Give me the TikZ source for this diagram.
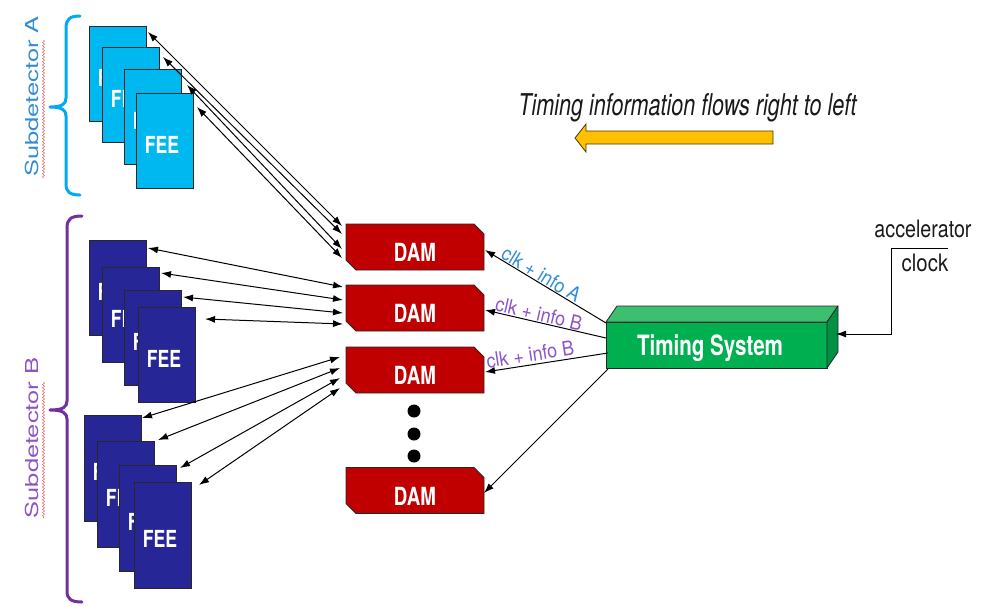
\documentclass[tikz,border=0pt]{standalone}
\usepackage{fontspec}
\setmainfont{TeX Gyre Heros}
\usetikzlibrary{arrows.meta,calc,shapes.misc,decorations.pathmorphing}

\definecolor{feeAfill}{RGB}{0,184,240}
\definecolor{feeBfill}{RGB}{38,38,150}
\definecolor{damred}{RGB}{192,0,0}
\definecolor{tsfront}{RGB}{0,176,80}
\definecolor{tstop}{RGB}{60,192,112}
\definecolor{tsside}{RGB}{0,146,66}
\definecolor{flowyellow}{RGB}{255,192,0}
\definecolor{arrowedge}{RGB}{70,55,10}
\definecolor{subAline}{RGB}{0,170,240}
\definecolor{subAtext}{RGB}{50,140,214}
\definecolor{subBline}{RGB}{112,48,160}
\definecolor{subBtext}{RGB}{140,84,200}
\definecolor{squig}{RGB}{240,110,110}
\definecolor{edgegray}{RGB}{40,40,40}
\definecolor{textdark}{RGB}{25,25,25}

\newcommand\feetext{\scalebox{0.75}[1]{FEE}\hspace*{5pt}}
\newcommand\damtext{\scalebox{0.75}[1]{DAM}}

\tikzset{
  box/.style={draw=edgegray, line width=0.8pt, inner sep=0pt, outer sep=0pt},
  feebase/.style={box, anchor=north west, minimum width=57pt, text=white,
    font=\bfseries\fontsize{23.5}{24}\selectfont, text height=25pt, text depth=0pt},
  feeA/.style={feebase, fill=feeAfill, minimum height=95pt},
  feeB/.style={feebase, fill=feeBfill, minimum height=95pt},
  feeC/.style={feebase, fill=feeBfill, minimum height=106pt},
  dam/.style={box, chamfered rectangle, chamfered rectangle corners={north east,south west},
    chamfered rectangle xsep=5pt, chamfered rectangle ysep=5pt,
    fill=damred, minimum width=138pt, minimum height=46pt, text=white,
    font=\bfseries\fontsize{25}{26}\selectfont, text height=29pt, text depth=0pt},
  tsbox/.style={box, fill=tsfront, minimum width=221pt, minimum height=46pt, text=white,
    font=\bfseries\fontsize{28}{30}\selectfont, text height=20pt, text depth=0pt},
  brace/.style={line width=3pt, line cap=round, line join=round},
  sublabel/.style={rotate=90, anchor=base, inner sep=0pt, font=\fontsize{25.5}{26}\selectfont},
  squiggle/.style={draw=squig, line width=0.6pt, decorate,
    decoration={snake, amplitude=1pt, segment length=3.2pt}},
  conn/.style={draw=black, line width=1pt},
  lbl/.style={sloped, inner sep=0.5pt, font=\fontsize{20}{21}\selectfont},
  dot/.style={circle, fill=black, minimum size=13pt, inner sep=0pt},
  plain/.style={anchor=base, inner sep=0pt, text=textdark}
}

\begin{document}
\begin{tikzpicture}[x=1pt,y=-1pt,>={Latex[length=10pt,width=7pt]}]
\useasboundingbox (0,0) rectangle (986,606);

% ---- subdetector brackets and labels ----
\draw[brace, subAline] (80,16) .. controls (70,16) and (66,19) .. (66,28) -- (66,98)
  .. controls (66,104) and (62,107) .. (50,107) .. controls (62,107) and (66,110) .. (66,116)
  -- (66,184) .. controls (66,192) and (70,195) .. (80,195);
\draw[brace, subBline] (82,216) .. controls (71,216) and (67,219) .. (67,228) -- (67,401)
  .. controls (67,407) and (63,410) .. (50,410) .. controls (63,410) and (67,413) .. (67,419)
  -- (67,591) .. controls (67,599) and (71,602) .. (82,602);

\node[sublabel, text=subAtext] (subA) at (38,96.5) {\scalebox{1}[0.7]{Subdetector A}};
\node[sublabel, text=subBtext] (subB) at (38,438) {\scalebox{1}[0.7]{Subdetector B}};
\draw[squiggle] (43.5,40) -- (43.5,178);
\draw[squiggle] (43.5,382) -- (43.5,518);

% ---- front-end electronics stacks ----
\node[feeA] (fa1) at (89,26)  {\feetext};
\node[feeA] (fa2) at (102,47) {\feetext};
\node[feeA] (fa3) at (124,69) {\feetext};
\node[feeA] (fa4) at (136,93) {\feetext};

\node[feeB] (fb1) at (89,240)  {\feetext};
\node[feeB] (fb2) at (102,267) {\feetext};
\node[feeB] (fb3) at (124,290) {\feetext};
\node[feeB] (fb4) at (138,307) {\feetext};

\node[feeC] (fc1) at (84,415)  {\feetext};
\node[feeC] (fc2) at (97,441)  {\feetext};
\node[feeC] (fc3) at (119,465) {\feetext};
\node[feeC] (fc4) at (134,482) {\feetext};

% ---- data acquisition modules ----
\node[dam] (d1) at (415,247)   {\damtext};
\node[dam] (d2) at (415,308)   {\damtext};
\node[dam] (d3) at (415,370)   {\damtext};
\node[dam] (d4) at (415,490.5) {\damtext};
\node[dot] (dot1) at (414,411) {};
\node[dot] (dot2) at (414,434) {};
\node[dot] (dot3) at (414,456) {};

% ---- timing system block ----
\node[tsbox] (ts) at (716.5,345) {\scalebox{0.735}[1]{Timing System}\hspace*{13pt}};
\filldraw[fill=tstop, draw=edgegray, line width=0.8pt, line join=round]
  (ts.north west) -- ++(11,-16) -- ($(ts.north east)+(11,-16)$) -- (ts.north east) -- cycle;
\filldraw[fill=tsside, draw=edgegray, line width=0.8pt, line join=round]
  (ts.north east) -- ++(11,-16) -- ($(ts.south east)+(11,-16)$) -- (ts.south east) -- cycle;

% ---- FEE <-> DAM links ----
\draw[conn,<->] ($(fa1.north east)+(2,6)$)  -- ($(d1.west)+(-4,-21)$);
\draw[conn,<->] ($(fa2.north east)+(4,10)$) -- ($(d1.west)+(-4,-13)$);
\draw[conn,<->] ($(fa3.north east)+(6,16)$) -- ($(d1.west)+(-4,2)$);
\draw[conn,<->] ($(fa4.north east)+(4,14)$) -- ($(d1.west)+(-4,11)$);

\draw[conn,<->] ($(fb1.north east)+(2,8)$)   -- ($(d2.west)+(-3,-21)$);
\draw[conn,<->] ($(fb2.north east)+(2,6)$)   -- ($(d2.west)+(-3,-8)$);
\draw[conn,<->] ($(fb3.north east)+(2,7)$)   -- ($(d2.west)+(-3,5)$);
\draw[conn,<->] ($(fb4.north east)+(10,12)$) -- ($(d2.west)+(-3,16)$);

\draw[conn,<->] ($(fc1.north east)+(1,3)$)  -- ($(d3.west)+(-6,-13)$);
\draw[conn,<->] ($(fc2.north east)+(4,-1)$) -- ($(d3.west)+(-6,-2)$);
\draw[conn,<->] ($(fc3.north east)+(4,3)$)  -- ($(d3.west)+(-6,8)$);
\draw[conn,<->] ($(fc4.north east)+(8,3)$)  -- ($(d3.west)+(-6,18)$);

% ---- timing distribution ----
\draw[conn,->] ($(ts.west)+(0,-22)$) -- node[lbl, above, pos=0.57, text=subAtext]
  {\scalebox{0.9}[1]{clk + info A}} ($(d1.east)+(1,3)$);
\draw[conn,->] ($(ts.west)+(0,-7)$) -- node[lbl, above, pos=0.57, text=subBtext]
  {\scalebox{0.9}[1]{clk + info B}} ($(d2.east)+(1,2)$);
\draw[conn,->] ($(ts.west)+(2,8)$) -- node[lbl, above=2pt, pos=0.62, text=subBtext]
  {\scalebox{0.9}[1]{clk + info B}} ($(d3.east)+(1,2)$);
\draw[conn,->] ($(ts.west)+(2,24)$) -- ($(d4.east)+(0,2.5)$);

% ---- accelerator clock input ----
\node[plain, font=\fontsize{24}{26}\selectfont] (acc) at (923,237) {\scalebox{0.82}[1]{accelerator}};
\node[plain, font=\fontsize{24}{26}\selectfont] (clk) at (925,271) {\scalebox{0.85}[1]{clock}};
\coordinate (barR) at (948,248);
\coordinate (barL) at (891,248);
\coordinate (clkin) at ($(ts.east)+(9,-11)$);
\draw[conn,->] (barR) -- (barL) |- (clkin);

% ---- direction note ----
\node[plain, font=\itshape\fontsize{30}{32}\selectfont]
  (flow) at (687.5,115) {\scalebox{0.72}[1]{Timing information flows right to left}};
\filldraw[fill=flowyellow, draw=arrowedge, line width=0.8pt, line join=miter]
  (575,138) -- (586,124) -- (586,131) -- (773,131) -- (773,144) -- (586,144) -- (586,152) -- cycle;
\end{tikzpicture}
\end{document}
